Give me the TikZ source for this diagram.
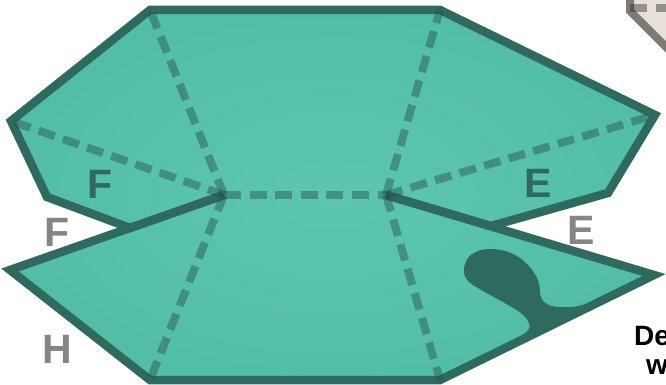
\documentclass[tikz,border=0pt]{standalone}
\usepackage{fontspec}
\setmainfont{Liberation Sans}
\definecolor{tealin}{HTML}{5DC6B1}
\definecolor{tealout}{HTML}{53BEA7}
\definecolor{tealedge}{HTML}{2E6B5E}
\definecolor{foldc}{HTML}{24544B}
\definecolor{greylab}{HTML}{858585}
\definecolor{beigefill}{HTML}{E8DFD8}
\definecolor{beigeedge}{HTML}{7F7A72}
\tikzset{
  edgeline/.style={draw=tealedge,line width=8.5pt,line join=miter,miter limit=10},
  foldline/.style={draw=foldc,line width=8pt,dash pattern=on 17pt off 8.6pt,opacity=0.45},
  lab/.style={font=\bfseries\fontsize{41}{41}\selectfont,inner sep=0pt,anchor=center},
  darklab/.style={lab,text=tealedge},
  greylabel/.style={lab,text=greylab},
  notetext/.style={font=\bfseries\fontsize{28}{28}\selectfont,text=black,inner sep=0pt,anchor=base west}
}
\begin{document}
\begin{tikzpicture}[x=1pt,y=-1pt]
\useasboundingbox (0,0) rectangle (666,385);
\clip (0,0) rectangle (666,385);
\fill[white] (0,0) rectangle (666,385);
% beige piece, top right
\fill[beigefill] (630,-5) -- (680,-5) -- (680,61) -- (630,11) -- cycle;
\draw[beigeedge,line width=8pt,line join=miter] (630,-8) -- (630,11) -- (680,61);
\draw[black!60!beigeedge,line width=8pt,opacity=.45,dash pattern=on 17pt off 8.6pt] (630,8.5) -- (680,8.5);
% sheet
\coordinate (A) at (150,10);
\coordinate (B) at (440,10);
\coordinate (C) at (655,115);
\coordinate (D) at (608,193);
\coordinate (N) at (491,226);
\coordinate (P) at (386,195);
\coordinate (Q) at (224,195);
\coordinate (M) at (130,228);
\coordinate (G) at (47,197);
\coordinate (H) at (11,121);
\coordinate (R) at (654,275);
\coordinate (S) at (440,380);
\coordinate (T) at (150,380);
\coordinate (U) at (10,270);
\shade[inner color=tealin,outer color=tealout]
  (A) -- (B) -- (C) -- (D) -- (N) -- (P) -- (R) -- (S) -- (T) -- (U) -- (Q) -- (M) -- (G) -- (H) -- cycle;
% dark curl
\fill[tealedge] (517,338) .. controls (526,334) and (532,328) .. (529,323)
  .. controls (526,316) and (520,312) .. (515,309)
  .. controls (500,300) and (484,292) .. (473,285)
  .. controls (464,279) and (462,272) .. (465,264)
  .. controls (468,254) and (478,249) .. (490,249)
  .. controls (505,249) and (518,254) .. (528,265)
  .. controls (537,275) and (540,283) .. (540,292)
  .. controls (540,301) and (547,307) .. (560,307)
  .. controls (572,308) and (582,306) .. (590,302)
  -- cycle;
% outlines
\draw[edgeline] (Q) -- (M) -- (G) -- (H) -- (A) -- (B) -- (C) -- (D) -- (N) -- (P);
\draw[edgeline] (P) -- (R) -- (S) -- (T) -- (U) -- (Q);
% fold lines
\draw[foldline] (Q) -- (A);
\draw[foldline] (Q) -- (H);
\draw[foldline] (Q) -- (T);
\draw[foldline] (P) -- (B);
\draw[foldline] (P) -- (C);
\draw[foldline] (P) -- (S);
\draw[foldline] (Q) -- (P);
% labels
\node[darklab] (f1) at (100,184.5) {F};
\node[darklab] (e1) at (538.5,183) {E};
\node[greylabel] (f2) at (57,232) {F};
\node[greylabel] (e2) at (581,230) {E};
\node[greylabel] (h1) at (57,349) {H};
\node[notetext] (n1) at (634,345) {De};
\node[notetext] (n2) at (646,374) {w};
\end{tikzpicture}
\end{document}
